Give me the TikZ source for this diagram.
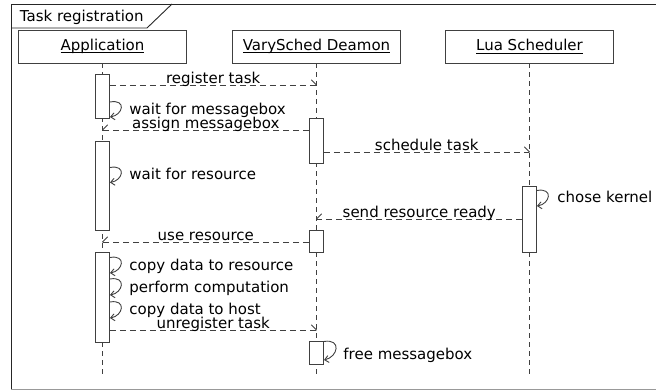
\documentclass[tikz,border=0pt]{standalone}
\usepackage{fontspec}
\setmainfont{DejaVu Sans}
\usetikzlibrary{arrows.meta,calc}

% underlined object name for lifeline heads
\newcommand\headtext[1]{\setbox0\hbox{#1}\rlap{\vrule width\wd0 height -1.7pt depth 2.7pt}\box0}

% half open arrow tips: a single barb above the message line
\pgfdeclarearrow{
  name=BarbUpper,
  setup code={\pgfarrowssettipend{0pt}\pgfarrowssetlineend{-0.3pt}%
    \pgfarrowssetbackend{-5pt}\pgfarrowssetvisualbackend{-5pt}},
  drawing code={\pgfsetdash{}{0pt}\pgfsetroundcap
    \pgfpathmoveto{\pgfpoint{-5pt}{5pt}}\pgfpathlineto{\pgfpointorigin}\pgfusepathqstroke},
}
\pgfdeclarearrow{
  name=BarbLower,
  setup code={\pgfarrowssettipend{0pt}\pgfarrowssetlineend{-0.3pt}%
    \pgfarrowssetbackend{-5pt}\pgfarrowssetvisualbackend{-5pt}},
  drawing code={\pgfsetdash{}{0pt}\pgfsetroundcap
    \pgfpathmoveto{\pgfpoint{-5pt}{-5pt}}\pgfpathlineto{\pgfpointorigin}\pgfusepathqstroke},
}

\begin{document}
\begin{tikzpicture}[x=1pt,y=-1pt,
  font=\fontsize{15}{18}\selectfont,
  line width=0.9pt,
  linecol/.style={draw=black!75},
  head/.style={linecol,fill=white,minimum width=168pt,minimum height=33pt,inner sep=0pt},
  life/.style={linecol,dash pattern=on 5pt off 4pt},
  act/.style={linecol,fill=white,minimum width=14pt,inner sep=0pt},
  msgR/.style={linecol,dash pattern=on 6pt off 4pt,-BarbUpper},
  msgL/.style={linecol,dash pattern=on 6pt off 4pt,-BarbLower},
  selfcall/.style={linecol,-{Straight Barb[length=4pt,width=7pt]}},
  mlabel/.style={anchor=base,inner sep=0pt,yshift=1.2pt},
  note/.style={anchor=mid west,inner sep=0pt}
]
\useasboundingbox (0,0) rectangle (656,390);

% frame with title tab
\draw[black!85] (656,4) -- (11,4) -- (11,389.5);
\draw[black!40] (11,389.5) -- (656,389.5);
\draw[black!85] (11,28) -- (147,28) -- (172,4);
\node[anchor=west,inner sep=0pt] (title) at (19.5,17) {Task registration};

% lifeline heads
\node[head] (app) at (102.5,46.5) {\headtext{Application}};
\node[head] (vary) at (316.5,46.5) {\headtext{VarySched Deamon}};
\node[head] (lua) at (529.5,46.5) {\headtext{Lua Scheduler}};

% lifelines
\coordinate (bot) at (0,375);
\draw[life] (app.south) -- (app.south |- bot);
\draw[life] (vary.south) -- (vary.south |- bot);
\draw[life] (lua.south) -- (lua.south |- bot);

% activation bars
\node[act,minimum height=44pt] (a1) at (app.south |- 0,96) {};
\node[act,minimum height=89pt] (a2) at (app.south |- 0,185.5) {};
\node[act,minimum height=90pt] (a3) at (app.south |- 0,297) {};
\node[act,minimum height=45pt] (d1) at (vary.south |- 0,140.5) {};
\node[act,minimum height=22pt] (d2) at (vary.south |- 0,241) {};
\node[act,minimum height=23pt] (d3) at (vary.south |- 0,352.5) {};
\node[act,minimum height=66pt] (s1) at (lua.south |- 0,219) {};

% message rows
\coordinate (r1) at (0,85);
\coordinate (r2) at (0,130);
\coordinate (r3) at (0,152);
\coordinate (r4) at (0,219);
\coordinate (r5) at (0,242);
\coordinate (r6) at (0,330);

% messages
\draw[msgR] (a1.east |- r1) -- node[mlabel] {register task} (vary.south |- r1);
\draw[msgL] (d1.west |- r2) -- node[mlabel] {assign messagebox} (app.south |- r2);
\draw[msgR] (d1.east |- r3) -- node[mlabel] {schedule task} (lua.south |- r3);
\draw[msgL] (s1.west |- r4) -- node[mlabel] {send resource ready} (vary.south |- r4);
\draw[msgL] (d2.west |- r5) -- node[mlabel] {use resource} (app.south |- r5);
\draw[msgR] (a3.east |- r6) -- node[mlabel] {unregister task} (vary.south |- r6);

% self calls
\draw[selfcall] (a1.east |- 0,102) .. controls +(17,-3) and +(13,-2) .. (a1.east |- 0,117);
\node[note] (n1) at (129,111.5) {wait for messagebox};

\draw[selfcall] (a2.east |- 0,167.5) .. controls +(17,-3) and +(13,-2) .. (a2.east |- 0,182.5);
\node[note] (n2) at (129,176.5) {wait for resource};

\draw[selfcall] (s1.east |- 0,190.5) .. controls +(17,-3) and +(13,-2) .. (s1.east |- 0,206);
\node[note] (n3) at (557,199.5) {chose kernel};

\draw[selfcall] (a3.east |- 0,257.5) .. controls +(17,-3) and +(13,-2) .. (a3.east |- 0,273);
\node[note] (n4) at (129,267.5) {copy data to resource};

\draw[selfcall] (a3.east |- 0,279) .. controls +(17,-3) and +(13,-2) .. (a3.east |- 0,295);
\node[note] (n5) at (129,289.5) {perform computation};

\draw[selfcall] (a3.east |- 0,302) .. controls +(17,-3) and +(13,-2) .. (a3.east |- 0,318);
\node[note] (n6) at (129,312) {copy data to host};

\draw[selfcall] (d3.east |- 0,341.5) .. controls +(18,-3) and +(14,-3) .. (d3.east |- 0,360);
\node[note] (n7) at (343,356.5) {free messagebox};

\end{tikzpicture}
\end{document}
